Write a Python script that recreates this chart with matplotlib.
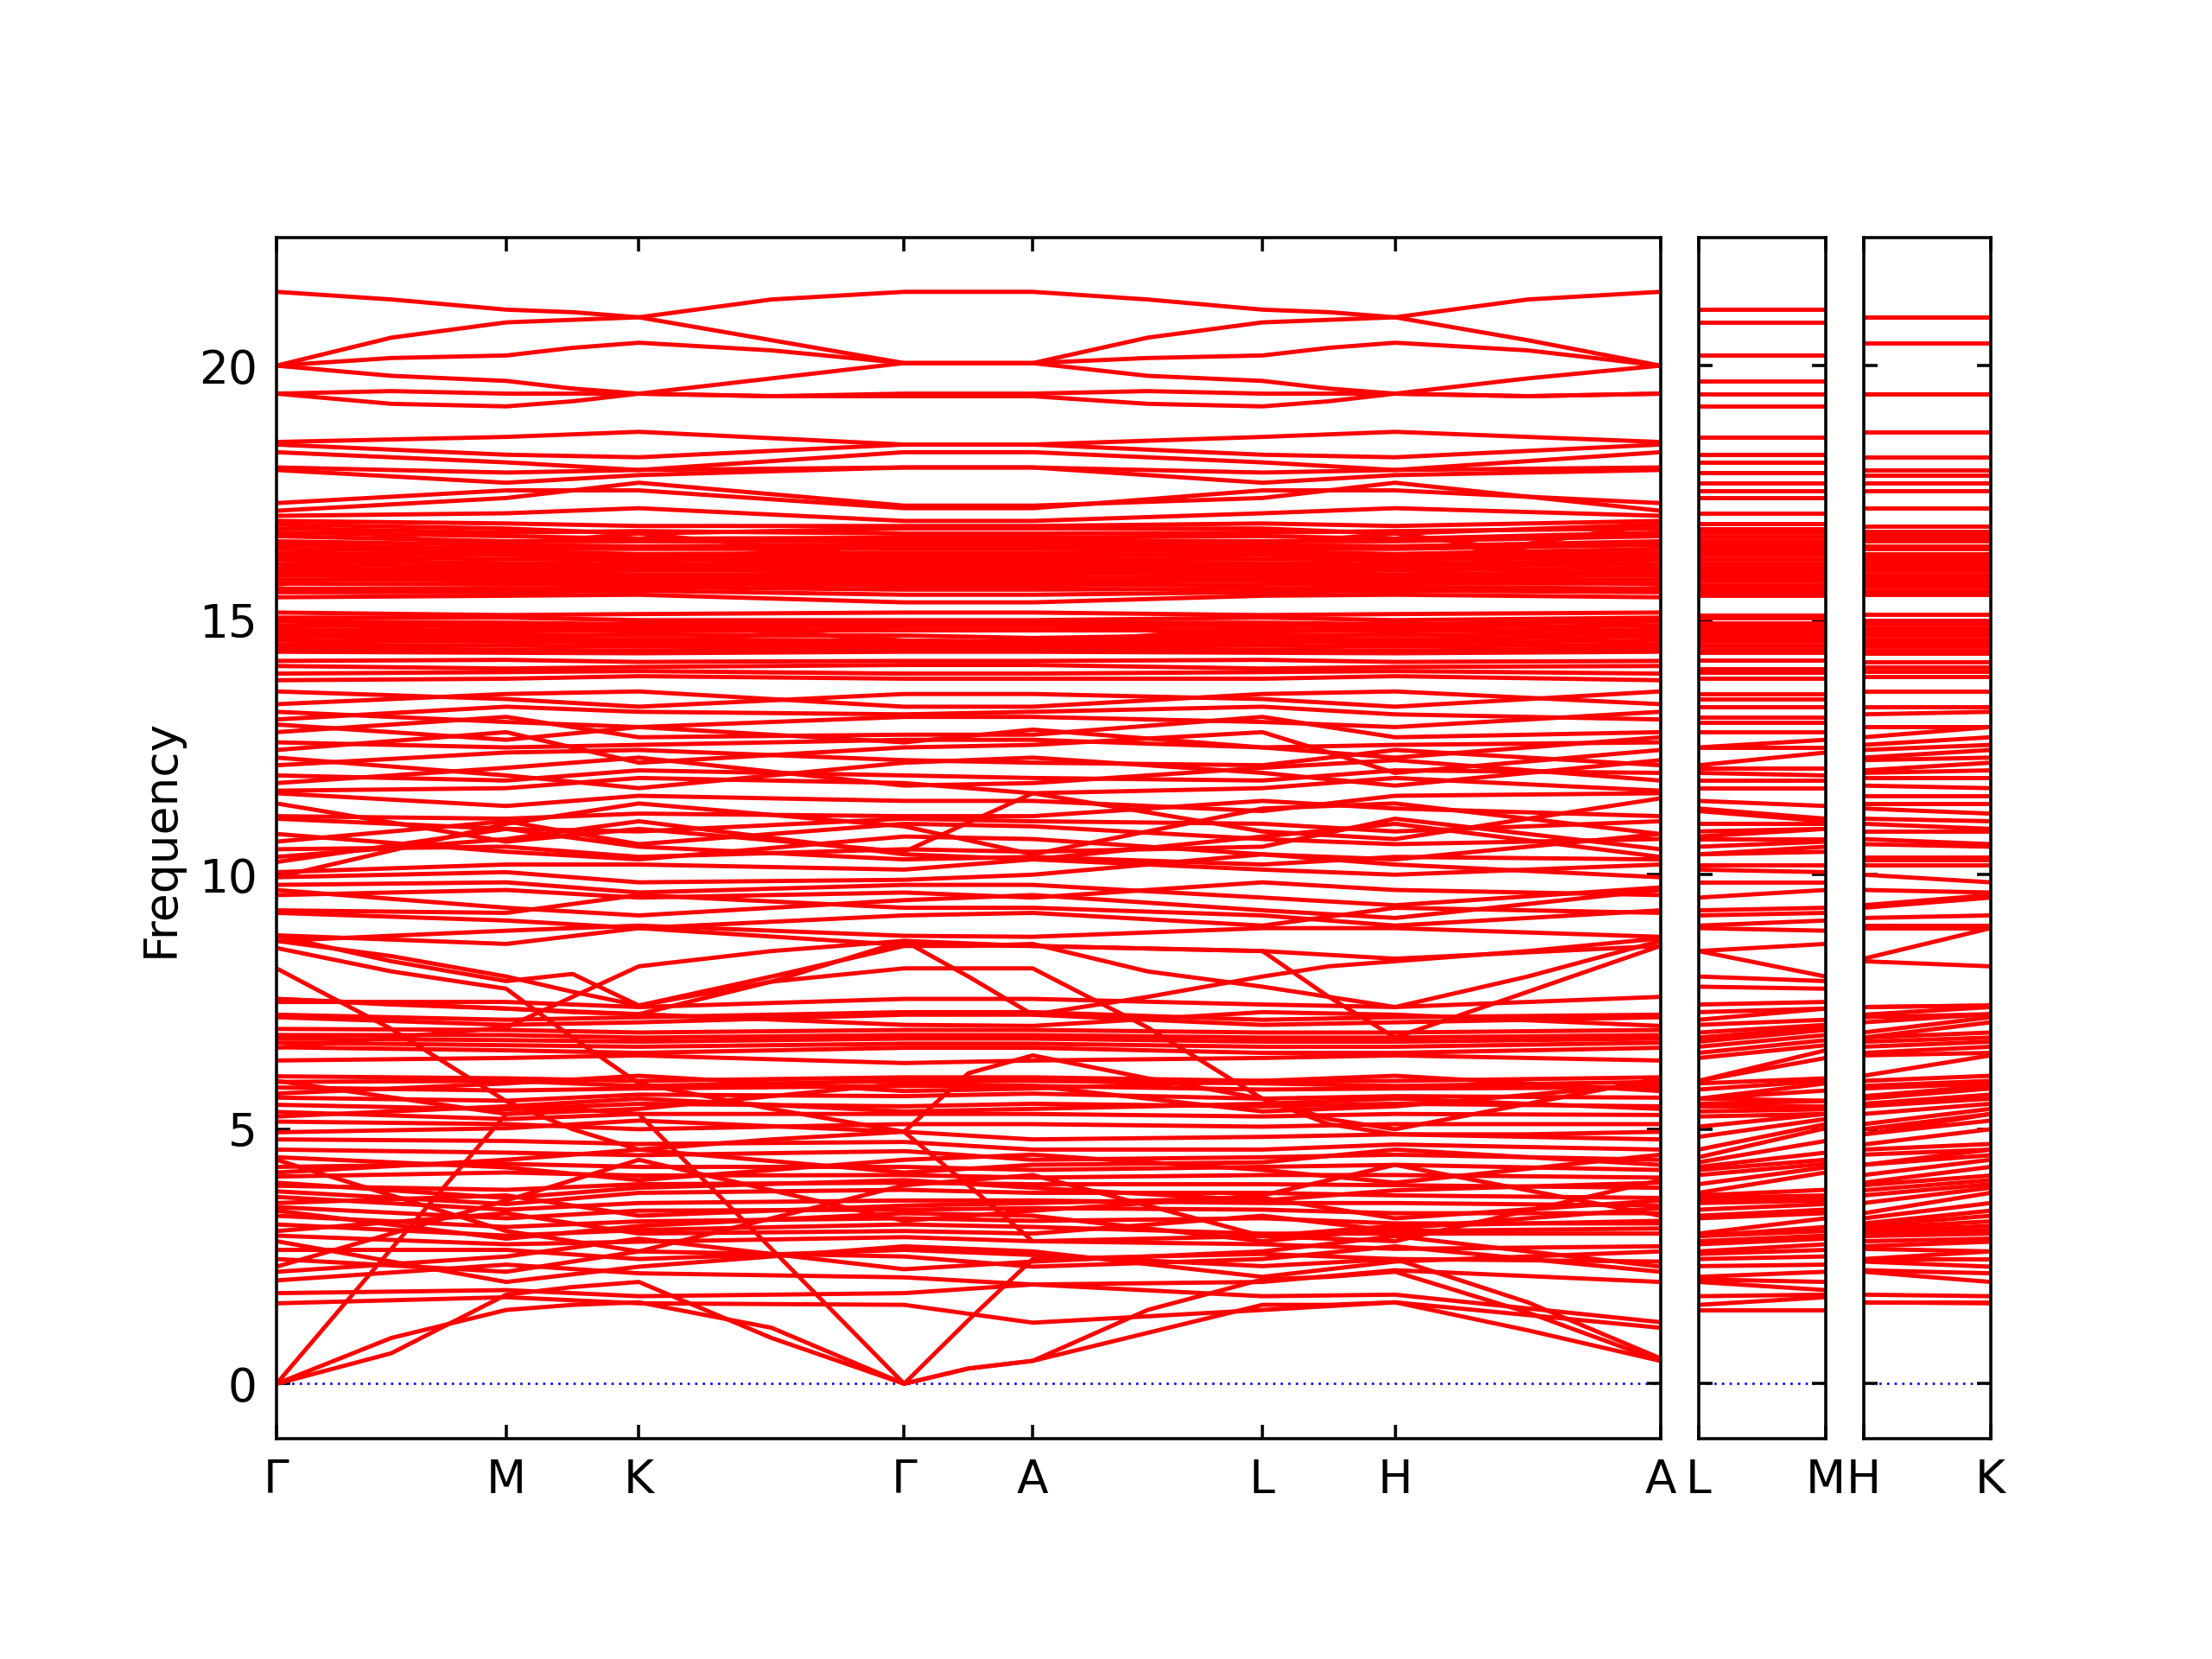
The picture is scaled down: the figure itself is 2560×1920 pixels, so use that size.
import numpy as np
import matplotlib
matplotlib.use("Agg")
import matplotlib.pyplot as plt

# high-symmetry path (hexagonal): segment lengths in reciprocal units
labels_main = ["Γ", "M", "K", "Γ", "A", "L", "H", "A"]
labels_lm = ["L", "M"]
labels_hk = ["H", "K"]
seg_len = [np.sqrt(3) / 2, 0.5, 1.0, 0.485, np.sqrt(3) / 2, 0.5, 1.0]
side_len = 0.485

# bands read at nodes: [Γ, M, K, Γ, A, L, H, A]
bands_nodes = [
    # 17 - 18.7
    [18.50, 18.60, 18.70, 18.45, 18.45, 18.60, 18.70, 18.50],
    [18.45, 18.25, 18.20, 18.45, 18.45, 18.25, 18.20, 18.45],
    [18.30, 18.10, 17.95, 18.30, 18.30, 18.10, 17.95, 18.30],
    [18.00, 17.90, 17.95, 18.00, 18.00, 17.90, 17.95, 18.00],
    [17.95, 17.70, 17.85, 18.00, 18.00, 17.70, 17.85, 17.95],
    [17.30, 17.55, 17.55, 17.20, 17.20, 17.55, 17.55, 17.30],
    [17.15, 17.40, 17.70, 17.25, 17.25, 17.40, 17.70, 17.15],
    # 15.3 - 17.2
    [17.05, 17.10, 17.20, 16.95, 16.95, 17.10, 17.20, 17.05],
    [16.95, 16.90, 16.85, 16.85, 16.85, 16.90, 16.85, 16.95],
    [16.88, 16.80, 16.70, 16.80, 16.80, 16.80, 16.70, 16.88],
    [16.80, 16.72, 16.75, 16.70, 16.70, 16.72, 16.75, 16.80],
    [16.72, 16.65, 16.60, 16.62, 16.62, 16.65, 16.60, 16.72],
    [16.65, 16.55, 16.55, 16.55, 16.55, 16.55, 16.55, 16.65],
    [16.55, 16.48, 16.45, 16.48, 16.48, 16.48, 16.45, 16.55],
    [16.48, 16.40, 16.40, 16.40, 16.40, 16.40, 16.40, 16.48],
    [16.40, 16.35, 16.30, 16.32, 16.32, 16.35, 16.30, 16.40],
    [16.32, 16.28, 16.25, 16.25, 16.25, 16.28, 16.25, 16.32],
    [16.25, 16.20, 16.18, 16.18, 16.18, 16.20, 16.18, 16.25],
    [16.18, 16.12, 16.10, 16.12, 16.12, 16.12, 16.10, 16.18],
    [16.10, 16.05, 16.05, 16.05, 16.05, 16.05, 16.05, 16.10],
    [16.02, 15.98, 15.98, 15.98, 15.98, 15.98, 15.98, 16.02],
    [15.95, 15.92, 15.90, 15.90, 15.90, 15.92, 15.90, 15.95],
    [15.88, 15.85, 15.85, 15.82, 15.82, 15.85, 15.85, 15.88],
    [15.80, 15.78, 15.78, 15.75, 15.75, 15.78, 15.78, 15.80],
    [15.72, 15.70, 15.72, 15.68, 15.68, 15.70, 15.72, 15.72],
    [15.62, 15.62, 15.65, 15.60, 15.60, 15.62, 15.65, 15.62],
    [15.55, 15.55, 15.58, 15.50, 15.50, 15.55, 15.58, 15.55],
    [15.45, 15.48, 15.50, 15.35, 15.35, 15.48, 15.50, 15.45],
    [16.90, 16.40, 16.10, 16.60, 16.60, 16.40, 16.10, 16.90],
    [16.00, 16.50, 16.70, 16.20, 16.20, 16.50, 16.70, 16.00],
    [15.70, 16.10, 15.85, 15.95, 15.95, 16.10, 15.85, 15.70],
    # 13.8 - 15.2
    [15.15, 15.10, 15.12, 15.15, 15.15, 15.10, 15.12, 15.15],
    [15.05, 15.05, 15.00, 15.00, 15.00, 15.05, 15.00, 15.05],
    [14.98, 14.95, 14.92, 14.95, 14.95, 14.95, 14.92, 14.98],
    [14.90, 14.88, 14.85, 14.88, 14.88, 14.88, 14.85, 14.90],
    [14.82, 14.80, 14.78, 14.80, 14.80, 14.80, 14.78, 14.82],
    [14.75, 14.72, 14.70, 14.70, 14.65, 14.72, 14.70, 14.75],
    [14.68, 14.65, 14.62, 14.60, 14.58, 14.65, 14.62, 14.68],
    [14.60, 14.58, 14.55, 14.55, 14.52, 14.58, 14.55, 14.60],
    [14.52, 14.50, 14.48, 14.50, 14.50, 14.50, 14.48, 14.52],
    [14.45, 14.42, 14.40, 14.45, 14.45, 14.42, 14.40, 14.45],
    [14.38, 14.36, 14.35, 14.38, 14.38, 14.36, 14.35, 14.38],
    [14.20, 14.22, 14.18, 14.20, 14.20, 14.22, 14.18, 14.20],
    [14.10, 14.05, 14.08, 14.12, 14.12, 14.05, 14.08, 14.10],
    [13.95, 13.98, 14.00, 13.95, 13.95, 13.98, 14.00, 13.95],
    [13.82, 13.85, 13.90, 13.85, 13.85, 13.85, 13.90, 13.82],
    [14.50, 14.80, 14.95, 14.60, 14.55, 14.85, 14.95, 14.50],
    [15.00, 14.70, 14.55, 14.90, 14.90, 14.70, 14.55, 15.00],
    # 9 - 13.7
    [13.60, 13.45, 13.30, 13.55, 13.55, 13.45, 13.30, 13.60],
    [13.35, 13.55, 13.60, 13.30, 13.30, 13.55, 13.60, 13.35],
    [13.20, 13.00, 12.90, 13.10, 13.10, 13.00, 12.90, 13.20],
    [13.05, 13.30, 13.20, 13.15, 13.20, 13.30, 13.15, 13.05],
    [12.80, 13.10, 12.70, 12.75, 12.75, 13.10, 12.70, 12.80],
    [12.60, 12.50, 12.55, 12.65, 12.65, 12.50, 12.55, 12.60],
    [12.45, 12.80, 12.20, 12.50, 12.55, 12.80, 12.00, 12.45],
    [12.30, 11.95, 11.70, 12.20, 12.30, 12.00, 11.75, 12.25],
    [12.15, 12.40, 12.45, 12.25, 12.20, 12.15, 12.45, 12.15],
    [11.95, 11.85, 12.05, 11.95, 11.90, 11.85, 12.05, 12.00],
    [11.80, 12.10, 12.30, 11.75, 11.80, 12.10, 12.25, 11.85],
    [11.65, 11.70, 11.90, 11.80, 11.60, 11.70, 11.90, 11.65],
    [11.60, 11.35, 11.55, 11.45, 11.45, 11.25, 11.55, 11.60],
    [11.15, 11.10, 11.20, 11.15, 11.15, 11.45, 11.30, 11.15],
    [11.10, 10.90, 10.85, 11.10, 11.05, 11.00, 10.85, 11.05],
    [10.80, 10.45, 10.30, 10.75, 10.70, 10.40, 10.30, 10.80],
    [10.65, 11.05, 10.60, 11.00, 10.95, 10.70, 10.60, 10.70],
    [10.50, 10.55, 10.35, 10.50, 10.45, 10.55, 11.10, 10.50],
    [10.35, 10.70, 11.05, 10.40, 10.30, 10.75, 11.00, 10.35],
    [10.25, 10.90, 10.55, 10.30, 10.35, 10.20, 10.35, 10.30],
    [10.05, 10.20, 10.20, 10.10, 10.30, 10.10, 10.00, 10.20],
    [9.95, 10.05, 9.85, 9.90, 10.00, 10.40, 10.20, 9.95],
    [9.80, 9.85, 9.65, 9.80, 9.80, 9.55, 9.40, 9.75],
    [9.70, 9.35, 9.20, 9.50, 9.60, 9.30, 9.15, 9.70],
    [9.60, 9.70, 9.55, 9.65, 9.55, 9.85, 9.70, 9.60],
    [9.30, 9.25, 9.60, 9.35, 9.35, 9.20, 9.00, 9.30],
    [9.25, 9.10, 8.95, 9.20, 9.25, 9.00, 9.35, 9.25],
    [9.95, 11.00, 11.40, 10.95, 10.40, 11.30, 11.40, 10.80],
    [11.40, 10.65, 10.90, 10.45, 11.60, 10.85, 10.70, 11.50],
    [12.95, 12.65, 12.90, 12.60, 12.85, 12.50, 12.30, 12.70],
    # 7 - 9
    [7.20, 7.05, 7.10, 7.25, 7.25, 7.05, 7.10, 7.20],
    [7.56, 7.37, 7.26, 7.05, 7.03, 7.30, 7.25, 7.03],
    [7.50, 7.50, 7.40, 7.56, 7.56, 7.45, 7.40, 7.60],
    [8.70, 8.90, 9.00, 8.80, 8.78, 8.95, 8.95, 8.78],
    [8.81, 8.64, 8.95, 8.62, 8.60, 8.50, 8.35, 8.60],
    # 5 - 7
    [6.97, 6.95, 6.90, 6.95, 6.95, 6.90, 6.90, 6.95],
    [6.85, 6.85, 6.80, 6.85, 6.85, 6.80, 6.80, 6.85],
    [6.78, 6.75, 6.72, 6.78, 6.78, 6.72, 6.72, 6.78],
    [6.70, 6.65, 6.62, 6.68, 6.68, 6.62, 6.62, 6.70],
    [6.61, 6.55, 6.50, 6.60, 6.60, 6.50, 6.50, 6.60],
    [6.35, 6.40, 6.45, 6.30, 6.35, 6.40, 6.45, 6.35],
    [6.04, 6.00, 5.95, 6.02, 6.02, 5.95, 5.95, 6.02],
    [5.95, 5.30, 5.40, 5.90, 5.85, 5.35, 5.45, 5.90],
    [5.93, 5.95, 5.85, 5.95, 5.95, 5.90, 5.85, 5.93],
    [5.82, 5.76, 5.80, 5.85, 5.85, 5.78, 5.80, 5.82],
    [5.70, 5.90, 6.05, 5.75, 5.80, 5.95, 6.05, 5.75],
    [5.62, 5.56, 5.68, 5.65, 5.70, 5.60, 5.65, 5.62],
    [5.48, 5.39, 5.50, 5.45, 5.50, 5.45, 5.50, 5.45],
    [5.34, 5.20, 5.30, 5.30, 5.30, 5.25, 5.30, 5.28],
    [5.25, 5.45, 5.60, 5.35, 5.40, 5.50, 5.60, 5.40],
    [5.15, 5.10, 5.00, 5.10, 5.10, 5.05, 5.10, 5.10],
    [7.25, 7.15, 7.20, 7.30, 7.30, 7.15, 7.20, 7.25],
    # 1.5 - 5.3
    [1.58, 1.70, 1.58, 1.55, 1.20, 1.45, 1.60, 1.10],
    [1.78, 1.84, 1.72, 1.78, 1.95, 1.72, 1.75, 1.21],
    [2.03, 2.34, 2.17, 2.09, 1.95, 2.00, 2.23, 2.00],
    [2.20, 2.50, 2.85, 2.25, 2.40, 2.60, 2.90, 2.30],
    [2.45, 2.20, 2.60, 2.50, 2.30, 2.45, 2.70, 2.20],
    [2.63, 2.63, 2.45, 2.63, 2.53, 2.31, 2.45, 2.40],
    [2.91, 2.74, 2.79, 2.88, 2.80, 2.74, 2.65, 2.70],
    [3.00, 3.35, 2.95, 3.00, 2.95, 3.30, 3.00, 3.05],
    [3.13, 2.91, 3.02, 3.13, 3.08, 2.95, 2.95, 2.95],
    [3.30, 3.08, 3.19, 3.25, 3.20, 3.25, 3.15, 3.15],
    [3.40, 2.85, 3.10, 3.35, 3.30, 2.80, 3.05, 3.45],
    [3.47, 3.25, 3.40, 3.42, 3.45, 3.42, 3.35, 3.35],
    [3.55, 3.70, 3.30, 3.50, 3.55, 3.65, 3.25, 3.60],
    [3.67, 3.42, 3.55, 3.60, 3.60, 3.55, 3.55, 3.50],
    [3.78, 3.53, 3.75, 3.81, 3.75, 3.75, 3.70, 3.65],
    [3.89, 3.81, 3.92, 3.95, 3.92, 3.92, 3.90, 3.85],
    [3.95, 3.65, 3.85, 4.00, 3.85, 3.60, 3.80, 3.95],
    [4.07, 4.15, 4.09, 4.10, 4.05, 4.10, 4.10, 4.05],
    [4.15, 4.40, 4.60, 4.15, 4.30, 4.35, 4.60, 4.30],
    [4.26, 4.32, 4.26, 4.26, 4.20, 4.26, 4.30, 4.20],
    [4.45, 4.25, 4.00, 4.40, 4.50, 4.20, 3.95, 4.50],
    [4.60, 4.54, 4.49, 4.57, 4.40, 4.45, 4.50, 4.40],
    [4.80, 4.77, 4.71, 4.75, 4.60, 4.60, 4.70, 4.60],
    [4.94, 5.02, 5.17, 4.95, 4.80, 4.85, 4.90, 4.80],
    [2.30, 3.60, 4.40, 3.20, 3.40, 3.70, 4.30, 3.30],
    [4.40, 3.00, 2.60, 3.90, 4.10, 2.90, 2.80, 4.00],
    [2.80, 2.00, 2.30, 2.70, 2.60, 2.10, 2.40, 2.60],
]

# strongly dispersive bands, read at nodes and segment midpoints:
# [Γ, ., M, ., K, ., Γ, ., A, ., L, ., H, ., A]
bands_fine = [
    [21.45, 21.30, 21.10, 21.05, 20.95, 20.50, 20.05, 20.05, 20.05, 20.55, 20.85, 20.90, 20.95, 21.30, 21.45],
    [20.00, 20.55, 20.85, 20.90, 20.95, 21.30, 21.45, 21.45, 21.45, 21.30, 21.10, 21.05, 20.95, 20.50, 20.00],
    [20.00, 20.15, 20.20, 20.35, 20.45, 20.30, 20.05, 20.05, 20.05, 20.15, 20.20, 20.35, 20.45, 20.30, 20.00],
    [20.00, 19.80, 19.70, 19.55, 19.45, 19.75, 20.05, 20.05, 20.05, 19.80, 19.70, 19.55, 19.45, 19.75, 20.00],
    [19.45, 19.50, 19.45, 19.45, 19.45, 19.40, 19.45, 19.45, 19.45, 19.50, 19.45, 19.45, 19.45, 19.40, 19.45],
    [19.45, 19.25, 19.20, 19.30, 19.45, 19.40, 19.40, 19.40, 19.40, 19.25, 19.20, 19.30, 19.45, 19.40, 19.45],
    [8.80, 8.30, 7.91, 8.05, 7.43, 8.00, 8.60, 8.60, 8.64, 8.10, 7.80, 7.60, 7.40, 8.00, 8.70],
    [8.56, 8.10, 7.76, 6.80, 5.90, 5.40, 4.95, 3.90, 2.80, 2.85, 2.90, 3.00, 3.10, 3.15, 3.20],
    [8.16, 6.97, 5.55, 5.00, 4.60, 4.80, 4.95, 6.10, 6.45, 6.00, 5.60, 5.10, 4.90, 4.90, 4.95],
    [8.70, 8.40, 8.00, 7.70, 7.43, 7.90, 8.16, 8.16, 8.16, 7.00, 5.60, 5.20, 5.00, 5.50, 6.00],
    [7.56, 7.45, 7.37, 7.30, 7.26, 7.90, 8.70, 8.00, 7.25, 7.60, 8.00, 8.20, 8.30, 8.50, 8.75],
    [6.60, 6.80, 7.00, 7.60, 8.20, 8.50, 8.70, 8.65, 8.60, 8.55, 8.50, 7.60, 6.80, 7.70, 8.60],
    # acoustic branches
    [0.00, 2.65, 5.30, 5.40, 5.30, 2.65, 0.00, 1.25, 2.45, 2.50, 2.55, 2.50, 2.45, 1.60, 0.50],
    [0.00, 0.90, 1.45, 1.55, 1.60, 1.10, 0.00, 0.30, 0.45, 1.45, 2.05, 2.10, 2.20, 1.40, 0.45],
    [0.00, 0.60, 1.75, 1.90, 2.00, 0.90, 0.00, 0.30, 0.45, 1.00, 1.55, 1.55, 1.60, 1.05, 0.45],
]

x_nodes = np.concatenate([[0.0], np.cumsum(seg_len)])
x_fine = np.sort(np.concatenate([x_nodes, (x_nodes[:-1] + x_nodes[1:]) / 2]))

fig = plt.figure(figsize=(8, 6), dpi=320)
ax = fig.add_axes([0.125, 0.133, 0.6256, 0.724])
ax_lm = fig.add_axes([0.7679, 0.133, 0.0574, 0.724], sharey=ax)
ax_hk = fig.add_axes([0.8425, 0.133, 0.0574, 0.724], sharey=ax)

lw = 1.1
for a in (ax, ax_lm, ax_hk):
    a.axhline(0, color="b", lw=0.6, ls=(0, (1, 2.3)), zorder=1)

for b in bands_nodes:
    ax.plot(x_nodes, b, color="r", lw=lw)
for b in bands_fine:
    ax.plot(x_fine, b, color="r", lw=lw)

# side segments: values at the end points of L-M and H-K
iL, iM, iH, iK = 5, 1, 6, 2
vals_L = sorted([b[iL] for b in bands_nodes] + [b[2 * iL] for b in bands_fine])
vals_M = sorted([b[iM] for b in bands_nodes] + [b[2 * iM] for b in bands_fine])
vals_H = sorted([b[iH] for b in bands_nodes] + [b[2 * iH] for b in bands_fine])
vals_K = sorted([b[iK] for b in bands_nodes] + [b[2 * iK] for b in bands_fine])
for l, m in zip(vals_L, vals_M):
    ax_lm.plot([0, side_len], [l, m], color="r", lw=lw)
for h, k in zip(vals_H, vals_K):
    ax_hk.plot([0, side_len], [h, k], color="r", lw=lw)

ax.set_xlim(x_nodes[0], x_nodes[-1])
ax.set_xticks(x_nodes)
ax.set_xticklabels(labels_main)
ax.set_yticks([0, 5, 10, 15, 20])
ax.set_ylabel("Frequency", fontsize=12)

for a, labs in ((ax_lm, labels_lm), (ax_hk, labels_hk)):
    a.set_xlim(0, side_len)
    a.set_xticks([0, side_len])
    a.set_xticklabels(labs)
    a.tick_params(labelleft=False)

for a in (ax, ax_lm, ax_hk):
    a.tick_params(direction="in", top=True, right=True, labelsize=12, pad=5)

plt.savefig("out.png", dpi=320)
